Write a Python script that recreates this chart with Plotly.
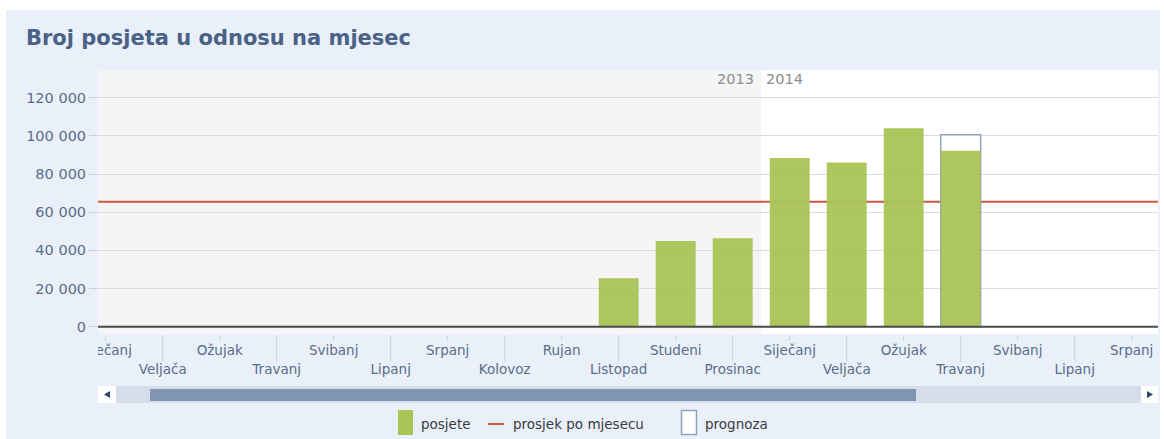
import plotly.graph_objects as go

# ---------------- data ----------------
categories = ["Siječanj", "Veljača", "Ožujak", "Travanj", "Svibanj", "Lipanj",
              "Srpanj", "Kolovoz", "Rujan", "Listopad", "Studeni", "Prosinac",
              "Siječanj", "Veljača", "Ožujak", "Travanj", "Svibanj", "Lipanj", "Srpanj"]
years = ["2013", "2014"]
posjete = [None, None, None, None, None, None, None, None, None,
           25400, 44900, 46300, 88400, 86000, 104000, 92200, None, None, None]
prognoza = [None] * 15 + [100600] + [None] * 3
prosjek = 65500
y_ticks = [0, 20000, 40000, 60000, 80000, 100000, 120000]
legend_names = ["posjete", "prosjek po mjesecu", "prognoza"]

# ---------------- style ----------------
W, H = 1164, 439
ML, MR, MT, MB = 98, 6, 70, 61
PLOT_BOTTOM = 334            # bottom of main plot in px
FONT = "DejaVu Sans"
PANEL = "#e9f0f9"
GREEN = "#a9c556"
RED = "#c9573d"
OUTLINE = "#8fa3bf"
TXT = "#5a6d88"

def px(x):
    return (x - ML) / (W - ML - MR)

def py(y):
    return (H - MB - y) / (H - MT - MB)

split = py(PLOT_BOTTOM)
x_idx = list(range(len(categories)))
year_split = categories.index("Prosinac") + 0.5

fig = go.Figure()

fig.add_trace(go.Bar(x=x_idx, y=prognoza, width=0.7, name=legend_names[2],
                     marker=dict(color="white", line=dict(color=OUTLINE, width=1.5)),
                     showlegend=False, xaxis="x", yaxis="y"))
fig.add_trace(go.Bar(x=x_idx, y=posjete, width=0.7, name=legend_names[0],
                     marker=dict(color=GREEN, line=dict(width=0)), opacity=0.95,
                     showlegend=False, xaxis="x", yaxis="y"))

# category labels (staggered) in a strip subplot, clipped to plot width
row_y = [18 if i % 2 == 0 else 37 for i in x_idx]
fig.add_trace(go.Scatter(x=x_idx, y=row_y, mode="text", text=categories,
                         textfont=dict(family=FONT, size=13.5, color=TXT),
                         cliponaxis=True, hoverinfo="skip", showlegend=False,
                         xaxis="x2", yaxis="y2"))

shapes = []
# blue panel
shapes.append(dict(type="rect", xref="paper", yref="paper", x0=px(6), x1=px(1160),
                   y0=py(439), y1=py(10), fillcolor=PANEL, line=dict(width=0), layer="below"))
# label strip background
shapes.append(dict(type="rect", xref="x2 domain", yref="y2 domain", x0=0, x1=1, y0=0, y1=1,
                   fillcolor=PANEL, line=dict(width=0), layer="below"))
# main plot background
shapes.append(dict(type="rect", xref="x domain", yref="y domain", x0=0, x1=1, y0=0, y1=1,
                   fillcolor="white", line=dict(width=0), layer="below"))
# 2013 shaded background
shapes.append(dict(type="rect", xref="x", yref="y domain", x0=-2, x1=year_split, y0=0, y1=1,
                   fillcolor="#f5f5f5", line=dict(width=0), layer="below"))
# average line (behind bars)
shapes.append(dict(type="line", xref="x domain", yref="y", x0=0, x1=1, y0=prosjek, y1=prosjek,
                   line=dict(color=RED, width=2), layer="below"))
# zero line
shapes.append(dict(type="line", xref="x domain", yref="y", x0=0, x1=1, y0=0, y1=0,
                   line=dict(color="#4a4a4a", width=2), layer="above"))
# separators in label strip
for i in x_idx:
    if i % 2 == 1:
        shapes.append(dict(type="line", xref="x", yref="paper", x0=i, x1=i,
                           y0=py(335), y1=py(362), line=dict(color="#cdd4de", width=1)))
    else:
        shapes.append(dict(type="line", xref="x", yref="paper", x0=i, x1=i,
                           y0=py(336), y1=py(341), line=dict(color="#cdd4de", width=1)))

# scrollbar
shapes.append(dict(type="rect", xref="paper", yref="paper", x0=px(116), x1=px(1141),
                   y0=py(403), y1=py(386), fillcolor="#d5dde9", line=dict(width=0)))
shapes.append(dict(type="rect", xref="paper", yref="paper", x0=px(150), x1=px(916),
                   y0=py(401), y1=py(389), fillcolor="#7f96b2", line=dict(width=0)))
for x0, x1 in [(98, 116), (1141, 1158)]:
    shapes.append(dict(type="rect", xref="paper", yref="paper", x0=px(x0), x1=px(x1),
                       y0=py(403), y1=py(386), fillcolor="white", line=dict(width=0)))
# arrows
shapes.append(dict(type="path", xref="paper", yref="paper",
                   path=f"M {px(104)} {py(394.5)} L {px(110)} {py(391)} L {px(110)} {py(398)} Z",
                   fillcolor="#2c4668", line=dict(width=0)))
shapes.append(dict(type="path", xref="paper", yref="paper",
                   path=f"M {px(1153)} {py(394.5)} L {px(1147)} {py(391)} L {px(1147)} {py(398)} Z",
                   fillcolor="#2c4668", line=dict(width=0)))

# legend
shapes.append(dict(type="rect", xref="paper", yref="paper", x0=px(398), x1=px(413),
                   y0=py(435), y1=py(410), fillcolor=GREEN, line=dict(width=0)))
shapes.append(dict(type="line", xref="paper", yref="paper", x0=px(488), x1=px(504),
                   y0=py(424), y1=py(424), line=dict(color=RED, width=2)))
shapes.append(dict(type="rect", xref="paper", yref="paper", x0=px(681.5), x1=px(696.5),
                   y0=py(434.5), y1=py(410.5), fillcolor="white",
                   line=dict(color=OUTLINE, width=1.5)))

annotations = [
    dict(text="<b>Broj posjeta u odnosu na mjesec</b>", xref="paper", yref="paper",
         x=px(24), y=py(38), xanchor="left", yanchor="middle", showarrow=False,
         font=dict(family=FONT, size=21, color="#4a6285")),
    dict(text=years[0], xref="x", yref="paper", x=year_split, y=py(79), xanchor="right",
         yanchor="middle", xshift=-5, showarrow=False, font=dict(family=FONT, size=14.5, color="#8c8c8c")),
    dict(text=years[1], xref="x", yref="paper", x=year_split, y=py(79), xanchor="left",
         yanchor="middle", xshift=3, showarrow=False, font=dict(family=FONT, size=14.5, color="#8c8c8c")),
]
for name, xpos in zip(legend_names, [419, 511, 703]):
    annotations.append(dict(text=name, xref="paper", yref="paper", x=px(xpos), y=py(423.5),
                            xanchor="left", yanchor="middle", showarrow=False,
                            font=dict(family=FONT, size=13.5, color="#3c3c3c")))

zero_px = 326.7
top_px = 97.7
scale = (zero_px - top_px) / 120000
y_lo = -(PLOT_BOTTOM - zero_px) / scale
y_hi = (zero_px - MT) / scale

x_lo = -(105.7 - ML) / 57.0
x_hi = (W - MR - 105.7) / 57.0

fig.update_layout(
    width=W, height=H,
    margin=dict(l=ML, r=MR, t=MT, b=MB, pad=0),
    paper_bgcolor="white", plot_bgcolor="white",
    barmode="overlay", showlegend=False,
    separators=". ",
    shapes=shapes, annotations=annotations,
    xaxis=dict(domain=[0, 1], anchor="y", range=[x_lo, x_hi], showticklabels=False,
               showgrid=False, zeroline=False, ticks="", showline=False),
    yaxis=dict(domain=[split, 1], anchor="x", range=[y_lo, y_hi], tickvals=y_ticks,
               tickformat=",d", ticks="outside", ticklen=8, tickcolor="#cccccc",
               gridcolor="#dcdcdc", gridwidth=1, zeroline=False, showline=False,
               tickfont=dict(family=FONT, size=14.5, color=TXT)),
    xaxis2=dict(domain=[0, 1], anchor="y2", matches="x", showticklabels=False,
                showgrid=False, zeroline=False, ticks="", showline=False),
    yaxis2=dict(domain=[0, split], anchor="x2", range=[H - MB - PLOT_BOTTOM, 0],
                visible=False),
)

fig.write_html("out.html", config={"displayModeBar": False},
               post_script="document.body.style.margin='0';document.body.style.overflow='hidden';")
